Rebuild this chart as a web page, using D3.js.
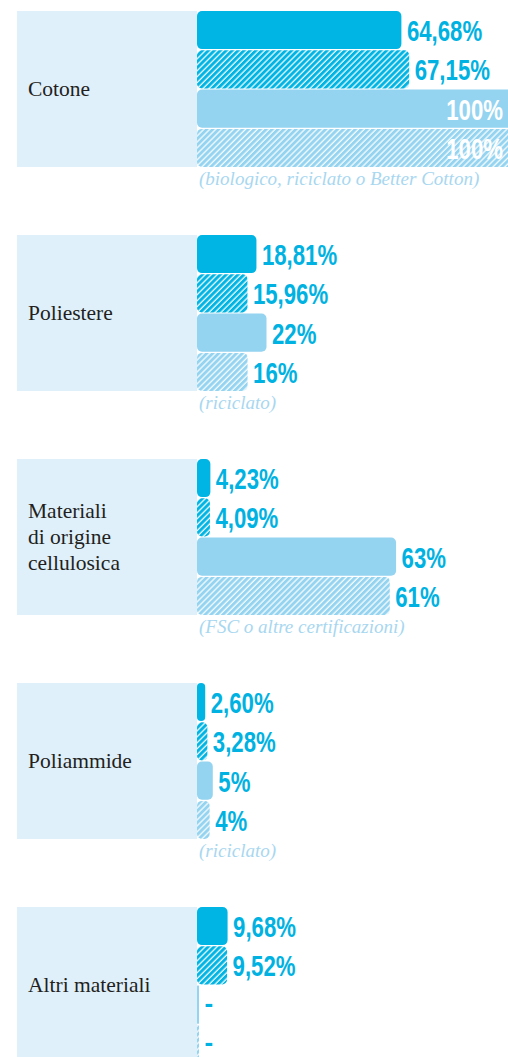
<!DOCTYPE html>
<html><head><meta charset="utf-8">
<script src="https://cdn.jsdelivr.net/npm/d3@7"></script>
<style>
html,body{margin:0;padding:0;background:#fff;overflow:hidden}
svg{display:block}
</style></head>
<body>
<svg id="chart" width="508" height="1057"></svg>
<script>
// ---- data ----
const categories = ["Cotone", "Poliestere", "Materiali di origine cellulosica", "Poliammide", "Altri materiali"];
const categoryLines = [["Cotone"], ["Poliestere"], ["Materiali", "di origine", "cellulosica"], ["Poliammide"], ["Altri materiali"]];
const seriesKeys = ["solidDark", "hatchDark", "solidLight", "hatchLight"];
const solidDark  = [64.68, 18.81, 4.23, 2.60, 9.68];
const hatchDark  = [67.15, 15.96, 4.09, 3.28, 9.52];
const solidLight = [100, 22, 63, 5, null];
const hatchLight = [100, 16, 61, 4, null];
const notes = ["(biologico, riciclato o Better Cotton)", "(riciclato)", "(FSC o altre certificazioni)", "(riciclato)", ""];

const seriesValues = {solidDark, hatchDark, solidLight, hatchLight};
const seriesDecimals = {solidDark: 2, hatchDark: 2, solidLight: 0, hatchLight: 0};

// ---- style ----
const DARK = "#00b4e4", LIGHT = "#95d4f1", PANEL = "#dff0fb", VALUE = "#00b2e2", NOTE = "#a8d7f0", LABEL = "#231f20";
const svg = d3.select("#chart");
const defs = svg.append("defs");
function hatch(id, color) {
  const s = 4.2;
  const p = defs.append("pattern").attr("id", id).attr("patternUnits", "userSpaceOnUse")
    .attr("width", s).attr("height", s).attr("patternTransform", "rotate(45)");
  p.append("rect").attr("width", s).attr("height", s).attr("fill", color);
  p.append("line").attr("x1", 1).attr("x2", 1).attr("y1", 0).attr("y2", s)
    .attr("stroke", "#fff").attr("stroke-width", 1.2);
}
hatch("hd", DARK); hatch("hl", LIGHT);
const fills = {solidDark: DARK, hatchDark: "url(#hd)", solidLight: LIGHT, hatchLight: "url(#hl)"};

const locale = d3.formatLocale({decimal: ",", thousands: ".", grouping: [3], currency: ["", "€"]});
const fmt = {0: locale.format(".0f"), 2: locale.format(".2f")};

// ---- scales ----
const groupH = 156;
const y0 = d3.scaleBand().domain(categories).range([11, 11 + 4 * 224 + groupH]).paddingInner(68 / 224).paddingOuter(0);
const y1 = d3.scaleBand().domain(seriesKeys).range([0, groupH]).paddingInner(0.03);
const x = d3.scaleLinear().domain([0, 100]).range([197, 513]);

const data = categories.map((c, i) => ({
  cat: c, lines: categoryLines[i], note: notes[i],
  bars: seriesKeys.map(k => ({key: k, v: seriesValues[k][i]}))
}));

const g = svg.selectAll("g.grp").data(data).join("g").attr("class", "grp")
  .attr("transform", d => `translate(0,${y0(d.cat)})`);

// panel
g.append("rect").attr("x", 17).attr("y", 0).attr("width", x(0) - 17).attr("height", y0.bandwidth()).attr("fill", PANEL);

// category label
g.each(function(d) {
  const t = d3.select(this).append("text")
    .attr("x", 28).attr("fill", LABEL)
    .style("font-family", "'Liberation Serif', 'DejaVu Serif', serif").style("font-size", "21.5px");
  const lh = 26;
  const start = y0.bandwidth() / 2 - (d.lines.length - 1) * lh / 2 + 7;
  d.lines.forEach((l, j) => t.append("tspan").attr("x", 28).attr("y", start + j * lh).text(l));
});

// bars
const bar = g.selectAll("g.bar").data(d => d.bars).join("g").attr("class", "bar");
bar.append("rect")
  .attr("x", x(0))
  .attr("y", d => y1(d.key))
  .attr("height", y1.bandwidth())
  .attr("width", d => d.v == null ? 2 : Math.max(2, x(d.v) - x(0)))
  .attr("rx", d => d.v == null ? 0 : Math.min(5, (x(d.v) - x(0)) / 2))
  .attr("fill", d => fills[d.key]);

// value labels (condensed)
bar.append("text")
  .attr("class", "val")
  .attr("y", d => y1(d.key) + y1.bandwidth() / 2 + (d.v == null ? 7.5 : 11))
  .attr("fill", d => d.v != null && d.v >= 100 ? "#fff" : VALUE)
  .style("font-family", "'Liberation Sans', sans-serif")
  .style("font-weight", "bold").style("font-size", d => d.v == null ? "26px" : "30px")
  .text(d => d.v == null ? "-" : fmt[seriesDecimals[d.key]](d.v) + "%")
  .each(function(d) {
    const inside = d.v != null && d.v >= 100;
    const sx = d.v == null ? 1 : 0.74;
    const len = this.getComputedTextLength() * sx;
    const xx = inside ? 503 - len : (d.v == null ? x(0) + 2 : x(d.v)) + 5.5;
    d3.select(this).attr("x", 0).attr("transform", `translate(${xx},0) scale(${sx},1)`);
  });

// notes
g.append("text").attr("x", 199).attr("y", groupH + 18)
  .attr("fill", NOTE)
  .style("font-family", "'Liberation Serif', serif").style("font-style", "italic").style("font-size", "19px")
  .text(d => d.note);
</script>
</body></html>
